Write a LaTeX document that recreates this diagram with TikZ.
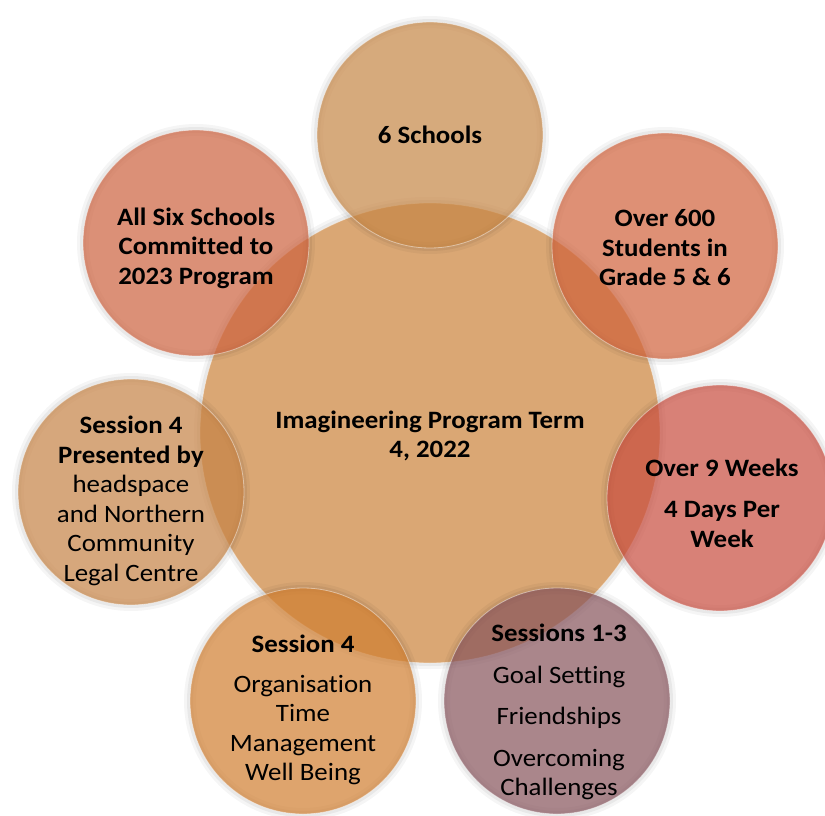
\documentclass[tikz,border=0pt]{standalone}
\usepackage{fontspec}
\setmainfont{Carlito}[FakeStretch=1.075, Ligatures=NoCommon]

\definecolor{hubTan}{RGB}{218,167,116}
\definecolor{schoolsTan}{RGB}{198,134,69}
\definecolor{studentsSalmon}{RGB}{208,98,59}
\definecolor{weeksRed}{RGB}{200,76,62}
\definecolor{sessionsMauve}{RGB}{134,83,91}
\definecolor{sessionOrange}{RGB}{208,126,48}
\definecolor{presenterTan}{RGB}{198,131,69}
\definecolor{commitSalmon}{RGB}{205,98,62}

\begin{document}
\begin{tikzpicture}[yscale=-1, x=1pt, y=1pt,
    bubble/.style={circle, inner sep=0pt, minimum size=226pt,
        fill opacity=0.7,
        draw=white, draw opacity=0.45, line width=0.8pt,
        preaction={draw=black, draw opacity=0.04, line width=12pt},
        preaction={draw=black, draw opacity=0.05, line width=6pt}},
    hub/.style={bubble, minimum size=460pt, fill opacity=1},
    caption/.style={align=center, inner sep=0pt, font=\fontsize{25}{29.5}\selectfont}]
    \useasboundingbox[fill=white] (0,0) rectangle (825,816);

    % Define the positions of the circles
    \coordinate (hubPos) at (430, 433);
    \coordinate (schoolsPos) at (430, 135);
    \coordinate (studentsPos) at (665, 246);
    \coordinate (weeksPos) at (720, 498);
    \coordinate (sessionsPos) at (557, 701);
    \coordinate (sessionFourPos) at (303, 701);
    \coordinate (presenterPos) at (131, 492);
    \coordinate (commitPos) at (196, 243);

    % Draw the big circle, then the small ones on top of it
    \node[hub, fill=hubTan] (hub) at (hubPos) {};
    \node[bubble, fill=schoolsTan] (schools) at (schoolsPos) {};
    \node[bubble, fill=studentsSalmon] (students) at (studentsPos) {};
    \node[bubble, fill=weeksRed] (weeks) at (weeksPos) {};
    \node[bubble, fill=sessionsMauve] (sessions) at (sessionsPos) {};
    \node[bubble, fill=sessionOrange] (sessionFour) at (sessionFourPos) {};
    \node[bubble, fill=presenterTan] (presenter) at (presenterPos) {};
    \node[bubble, fill=commitSalmon] (commit) at (commitPos) {};

    % Draw the texts
    \node[caption] (hubText) at (430, 436)
        {\textbf{Imagineering Program Term}\\\textbf{4, 2022}};
    \node[caption] (schoolsText) at (430, 135) {\textbf{6 Schools}};
    \node[caption] (studentsText) at (665, 248)
        {\textbf{Over 600}\\\textbf{Students in}\\\textbf{Grade 5 \& 6}};
    \node[caption] (weeksText) at (722, 503)
        {\textbf{Over 9 Weeks}\\[12pt]\textbf{4 Days Per}\\\textbf{Week}};
    \node[caption] (sessionsText) at (559, 712)
        {\textbf{Sessions 1-3}\\[12pt]Goal Setting\\[12pt]Friendships\\[12pt]Overcoming\\Challenges};
    \node[caption] (sessionFourText) at (303, 710)
        {\textbf{Session 4}\\[10pt]Organisation\\Time\\Management\\Well Being};
    \node[caption] (presenterText) at (131, 501)
        {\textbf{Session 4}\\\textbf{Presented by}\\headspace\\and Northern\\Community\\Legal Centre};
    \node[caption] (commitText) at (196, 248)
        {\textbf{All Six Schools}\\\textbf{Committed to}\\\textbf{2023 Program}};
\end{tikzpicture}
\end{document}
